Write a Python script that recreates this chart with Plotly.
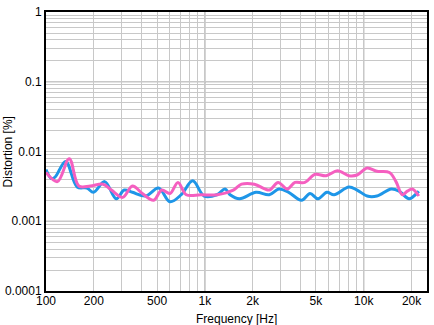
import plotly.graph_objects as go

# ---- data ----
freq_blue = [100, 108, 114, 133, 157, 181, 199, 234, 277, 311, 350, 424, 511, 603, 710, 838, 989,
             1190, 1340, 1440, 1650, 2100, 2540, 2920, 3370, 4060, 4590, 5150, 5860, 6500, 8060,
             9080, 10500, 12100, 14900, 16700, 19300, 21100, 22200]
dist_blue = [0.0055, 0.0041, 0.0043, 0.0072, 0.0031, 0.0030, 0.0026, 0.0037, 0.0021, 0.0028, 0.0026,
             0.0023, 0.0030, 0.0019, 0.0024, 0.0038, 0.0023, 0.0024, 0.0029, 0.0024, 0.0021, 0.0026,
             0.0024, 0.0029, 0.0026, 0.0020, 0.0025, 0.0021, 0.0026, 0.0024, 0.0031, 0.0028, 0.0023,
             0.0023, 0.0029, 0.0027, 0.0021, 0.0024, 0.0027]

freq_pink = [100, 118, 140, 161, 190, 229, 258, 304, 350, 404, 476, 535, 603, 677, 763, 945, 1200,
             1510, 1700, 2050, 2540, 2890, 3300, 3690, 4260, 4920, 5800, 6830, 8060, 9080, 10500,
             12100, 14500, 15950, 17500, 18800, 20200, 22200]
dist_pink = [0.0050, 0.0037, 0.0079, 0.0032, 0.0032, 0.0034, 0.0028, 0.0022, 0.0032, 0.0025, 0.0020,
             0.0028, 0.0025, 0.0036, 0.0024, 0.0024, 0.0024, 0.0028, 0.0034, 0.0034, 0.0028, 0.0036,
             0.0029, 0.0036, 0.0036, 0.0047, 0.0045, 0.0053, 0.0045, 0.0046, 0.0058, 0.0052, 0.0050,
             0.0037, 0.0024, 0.0027, 0.0029, 0.0023]

x_label_vals = [100, 200, 500, 1000, 2000, 5000, 10000, 20000]
x_label_text = ["100", "200", "500", "1k", "2k", "5k", "10k", "20k"]
y_label_vals = [0.0001, 0.001, 0.01, 0.1, 1]
y_label_text = ["0.0001", "0.001", "0.01", "0.1", "1"]

x_min, x_max = 100, 25000
y_min, y_max = 0.0001, 1

BLUE = "#1e96e8"
PINK = "#f55fc0"
MINOR = "#c8c8c8"
MAJOR = "#8c8c8c"
FONT = "Liberation Sans, Arial, sans-serif"

# minor grid positions (1..9 per decade)
x_grid = []
for dec in [100, 1000, 10000]:
    for m in range(1, 10):
        v = dec * m
        if x_min <= v <= x_max:
            x_grid.append(v)
y_grid = []
for dec in [0.0001, 0.001, 0.01, 0.1]:
    for m in range(1, 10):
        y_grid.append(dec * m)
y_grid.append(1)

x_text = [x_label_text[x_label_vals.index(v)] if v in x_label_vals else "" for v in x_grid]
y_text = [y_label_text[y_label_vals.index(v)] if v in y_label_vals else "" for v in y_grid]

fig = go.Figure()
fig.add_trace(go.Scatter(x=freq_blue, y=dist_blue, mode="lines",
                         line=dict(color=BLUE, width=3, shape="spline", smoothing=1.0),
                         showlegend=False))
fig.add_trace(go.Scatter(x=freq_pink, y=dist_pink, mode="lines",
                         line=dict(color=PINK, width=3, shape="spline", smoothing=1.0),
                         showlegend=False))

shapes = []
for v in [1000, 10000]:
    shapes.append(dict(type="line", xref="x", yref="paper", x0=v, x1=v, y0=0, y1=1,
                       line=dict(color=MAJOR, width=1), layer="between"))
for v in [0.001, 0.01, 0.1]:
    shapes.append(dict(type="line", xref="paper", yref="y", x0=0, x1=1, y0=v, y1=v,
                       line=dict(color=MAJOR, width=1), layer="between"))

fig.update_layout(
    width=434, height=325,
    margin=dict(l=38, r=5, t=8, b=34),
    paper_bgcolor="white", plot_bgcolor="white",
    font=dict(family=FONT, size=12, color="black"),
    shapes=shapes,
    xaxis=dict(type="log", range=[2, 4.398], tickmode="array", tickvals=x_grid, ticktext=x_text,
               showgrid=True, gridcolor=MINOR, gridwidth=1, ticks="", zeroline=False,
               showline=True, linecolor="black", linewidth=2, mirror=True,
               ticklabelstandoff=-2,
               tickfont=dict(family=FONT, size=12, color="black")),
    yaxis=dict(type="log", range=[-4, 0], tickmode="array", tickvals=y_grid, ticktext=y_text,
               showgrid=True, gridcolor=MINOR, gridwidth=1, ticks="", zeroline=False,
               showline=True, linecolor="black", linewidth=2, mirror=True,
               tickfont=dict(family=FONT, size=12, color="black")),
    annotations=[
        dict(text="Frequency [Hz]", xref="paper", yref="paper", x=0.5, y=-0.068,
             xanchor="center", yanchor="top", showarrow=False,
             font=dict(family=FONT, size=12, color="black")),
        dict(text="Distortion [%]", xref="paper", yref="paper", x=-0.1, y=0.5,
             xanchor="center", yanchor="middle", textangle=-90, showarrow=False,
             font=dict(family=FONT, size=12, color="black")),
    ],
)

fig.write_html("out.html")
